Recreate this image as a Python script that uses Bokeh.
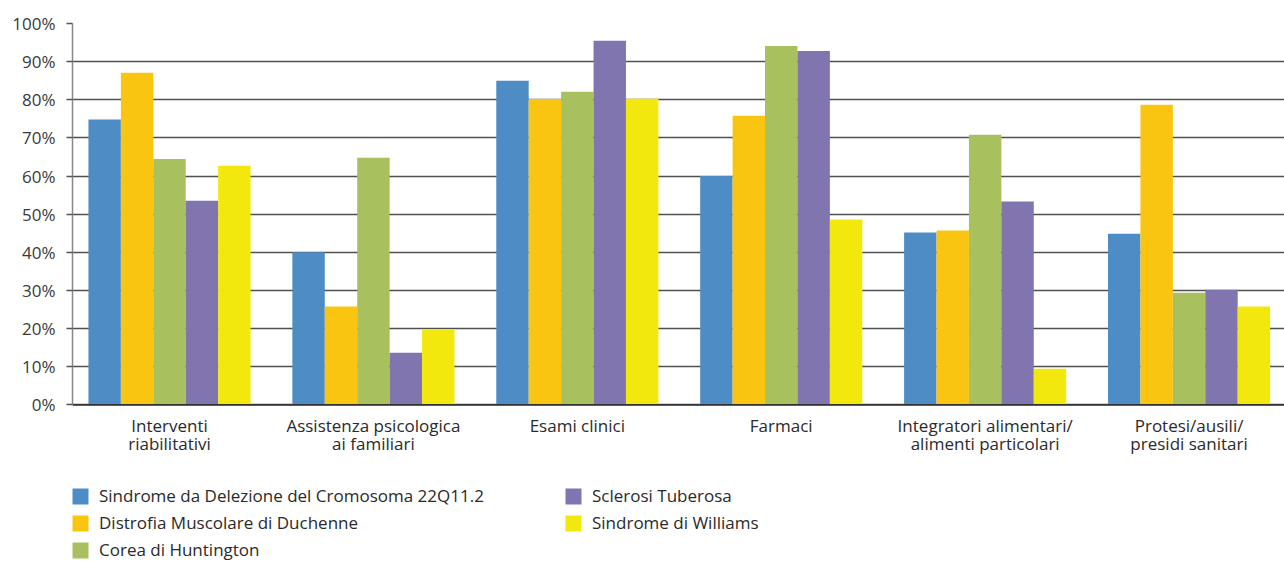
import numpy as np
from bokeh.plotting import figure
from bokeh.models import (ColumnDataSource, FixedTicker, NumeralTickFormatter,
                          Legend, LegendItem, Range1d)
from bokeh.core.properties import value
from bokeh.embed import file_html
from bokeh.resources import INLINE

categories = ["Interventi\nriabilitativi", "Assistenza psicologica\nai familiari",
              "Esami clinici", "Farmaci",
              "Integratori alimentari/\nalimenti particolari",
              "Protesi/ausili/\npresidi sanitari"]
series_names = ["Sindrome da Delezione del Cromosoma 22Q11.2",
                "Distrofia Muscolare di Duchenne",
                "Corea di Huntington",
                "Sclerosi Tuberosa",
                "Sindrome di Williams"]
delezione = [0.748, 0.400, 0.850, 0.600, 0.452, 0.449]
duchenne = [0.871, 0.258, 0.802, 0.758, 0.457, 0.787]
huntington = [0.645, 0.648, 0.821, 0.941, 0.708, 0.294]
sclerosi = [0.535, 0.137, 0.955, 0.928, 0.533, 0.302]
williams = [0.627, 0.197, 0.803, 0.486, 0.095, 0.258]
y_ticks = [0, 0.1, 0.2, 0.3, 0.4, 0.5, 0.6, 0.7, 0.8, 0.9, 1.0]

colors = ["#4E8CC6", "#F9C511", "#A9C05E", "#8175B0", "#F3E80D"]
all_series = [delezione, duchenne, huntington, sclerosi, williams]

FONT = "Open Sans"
bar_w = 0.159

# frame spans from the 100% line down to the bottom of the page;
# the area below 0 holds the category labels and the legend
p = figure(width=1284, height=562, output_backend="svg", toolbar_location=None,
           x_range=Range1d(-0.4757, 5.468), y_range=Range1d(-0.4133, 1))
p.min_border_left = 72
p.min_border_right = 0
p.min_border_top = 23
p.min_border_bottom = 0
p.outline_line_color = None
p.background_fill_color = "white"
p.border_fill_color = "white"
p.xaxis.visible = False

renderers = []
idx = np.arange(len(categories))
for i, (vals, col) in enumerate(zip(all_series, colors)):
    src = ColumnDataSource(dict(x=idx + (i - 2) * bar_w, top=vals))
    r = p.vbar(x="x", top="top", width=bar_w, source=src, fill_color=col,
               line_color=None)
    renderers.append(r)

# grid
p.xgrid.visible = False
p.ygrid.ticker = FixedTicker(ticks=y_ticks)
p.ygrid.grid_line_color = "#505050"
p.ygrid.grid_line_width = 1.7
p.ygrid.level = "underlay"

# y axis
ya = p.yaxis[0]
ya.ticker = FixedTicker(ticks=y_ticks)
ya.bounds = (0, 1)
ya.formatter = NumeralTickFormatter(format="0%")
ya.major_label_text_font = FONT
ya.major_label_text_font_size = "17px"
ya.major_label_text_color = "#3a3a3a"
ya.major_label_standoff = 11
ya.major_tick_in = 0
ya.major_tick_out = 6
ya.major_tick_line_color = "#555555"
ya.major_tick_line_width = 1.5
ya.minor_tick_line_color = None
ya.axis_line_color = "#888888"
ya.axis_line_width = 1.5

# baseline at 0 (darker)
p.line(x=[-0.4757, 5.468], y=[0, 0], line_color="#333333", line_width=1.7)

# category labels
lab_src = ColumnDataSource(dict(x=idx, y=np.zeros(len(categories)), text=categories))
p.text(x="x", y="y", text="text", source=lab_src, y_offset=9,
       text_align="center", text_baseline="top",
       text_font=value(FONT), text_font_size="17px", text_color="#2a2a2a",
       text_line_height=0.78)

items = [LegendItem(label=n, renderers=[r]) for n, r in zip(series_names, renderers)]
lg = Legend(items=items, location=(-2, 1), orientation="vertical", nrows=3,
            padding=0, margin=0, spacing=4,
            glyph_width=20, glyph_height=20, label_height=16, label_width=460,
            label_standoff=9, border_line_color=None,
            background_fill_alpha=0,
            label_text_font=FONT, label_text_font_size="17px",
            label_text_color="#2a2a2a")
p.add_layout(lg, "center")

open("out.html", "w").write(file_html(p, INLINE))
